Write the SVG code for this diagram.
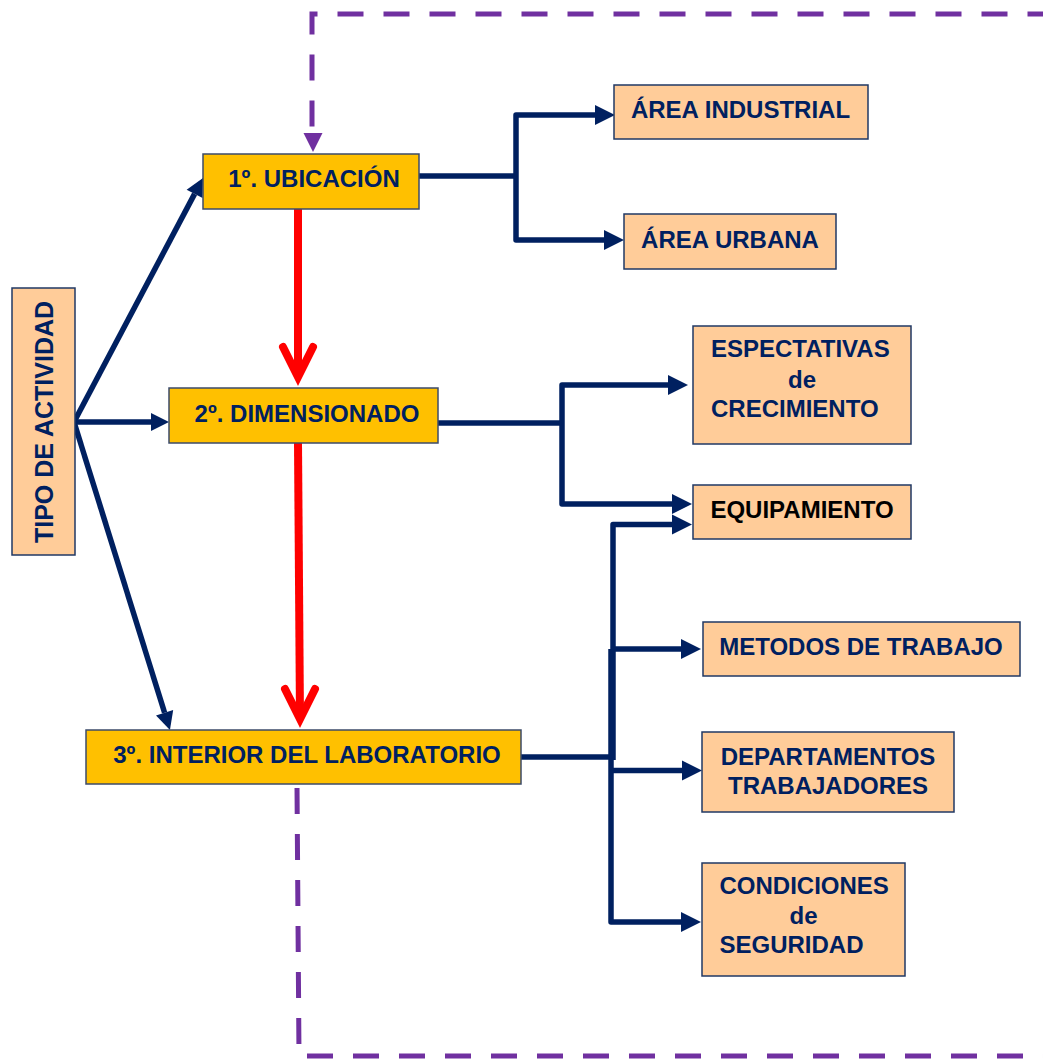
<svg xmlns="http://www.w3.org/2000/svg" width="1043" height="1059" viewBox="0 0 1043 1059">
<style>
.t{font-family:"Liberation Sans",Arial,sans-serif;font-weight:bold;font-size:24px;fill:#002060}
.y{fill:#FFC000;stroke:#3c4b6a;stroke-width:1.5}
.p{fill:#FFCC99;stroke:#203864;stroke-width:1.5}
.nv{fill:none;stroke:#002060;stroke-width:5.5;stroke-linejoin:round}
.rd{fill:none;stroke:#FF0000;stroke-width:8}
.pu{fill:none;stroke:#7030A0;stroke-width:5;stroke-dasharray:26 20}
</style>
<defs>
<marker id="ah" markerUnits="userSpaceOnUse" markerWidth="20" markerHeight="20" refX="0" refY="10" orient="auto" overflow="visible">
<path d="M0,0 L20,10 L0,20 Z" fill="#002060"/>
</marker>
<marker id="ah2" markerUnits="userSpaceOnUse" markerWidth="18" markerHeight="18" refX="0" refY="9" orient="auto" overflow="visible">
<path d="M0,0 L18,9 L0,18 Z" fill="#002060"/>
</marker>
</defs>

<g id="connectors">
<!-- purple dashed loop -->
<path class="pu" d="M312,133 V14 H1043" stroke-dashoffset="39.5"/>
<path d="M303.5,133 L322.5,133 L313,152 Z" fill="#7030A0"/>
<path class="pu" d="M297,786 L299,1056 H1043" stroke-dashoffset="44"/>

<!-- red arrows -->
<path class="rd" d="M298,209 V378"/>
<path class="rd" d="M283,347 L298,377 L313,347" stroke-linecap="round" stroke-linejoin="miter"/>
<path class="rd" d="M298,443 L300,720"/>
<path class="rd" d="M285,689 L300,719 L315,689" stroke-linecap="round" stroke-linejoin="miter"/>

<!-- from TIPO DE ACTIVIDAD -->
<path class="nv" d="M74,422 L194.6,193.9" marker-end="url(#ah2)"/>
<path class="nv" d="M74,422 H151" marker-end="url(#ah2)"/>
<path class="nv" d="M74,422 L164.6,712.8" marker-end="url(#ah2)"/>

<!-- from 1º UBICACIÓN -->
<path class="nv" d="M419,176 H516"/>
<path class="nv" d="M516,176 V115 H595" marker-end="url(#ah)"/>
<path class="nv" d="M516,176 V240 H604" marker-end="url(#ah)"/>

<!-- from 2º DIMENSIONADO -->
<path class="nv" d="M438,423 H562"/>
<path class="nv" d="M562,423 V385 H668" marker-end="url(#ah)"/>
<path class="nv" d="M562,423 V504 H672" marker-end="url(#ah)"/>

<!-- from 3º INTERIOR DEL LABORATORIO -->
<path class="nv" d="M521,757 H613"/>
<path class="nv" d="M613,760 V524.5 H672" marker-end="url(#ah)"/>
<path class="nv" d="M611,649 H681" marker-end="url(#ah)"/>
<path class="nv" d="M611,649 V922 H681" marker-end="url(#ah)"/>
<path class="nv" d="M611,770.5 H682" marker-end="url(#ah)"/>
</g>

<g id="tipo">
<rect class="p" x="12" y="288" width="63" height="267"/>
<text class="t" style="font-size:25px" text-anchor="middle" transform="translate(53,422) rotate(-90)">TIPO DE ACTIVIDAD</text>
</g>

<g id="ubicacion">
<rect class="y" x="203" y="154" width="216" height="55"/>
<text class="t" x="314" y="187" text-anchor="middle">1º. UBICACIÓN</text>
</g>

<g id="dimensionado">
<rect class="y" x="169" y="388" width="269" height="55"/>
<text class="t" x="307" y="422" text-anchor="middle">2º. DIMENSIONADO</text>
</g>

<g id="interior">
<rect class="y" x="86" y="730" width="435" height="54"/>
<text class="t" x="307" y="763" text-anchor="middle">3º. INTERIOR DEL LABORATORIO</text>
</g>

<g id="area-industrial">
<rect class="p" x="614" y="85" width="254" height="54"/>
<text class="t" x="740.5" y="118" text-anchor="middle">ÁREA INDUSTRIAL</text>
</g>

<g id="area-urbana">
<rect class="p" x="624" y="214" width="212" height="55"/>
<text class="t" x="730" y="248" text-anchor="middle">ÁREA URBANA</text>
</g>

<g id="espectativas">
<rect class="p" x="693" y="326" width="218" height="118"/>
<text class="t" x="711" y="357">ESPECTATIVAS</text>
<text class="t" x="802" y="388" text-anchor="middle">de</text>
<text class="t" x="711" y="417">CRECIMIENTO</text>
</g>

<g id="equipamiento">
<rect class="p" x="693" y="485" width="218" height="54"/>
<text class="t" x="802" y="518" text-anchor="middle" style="fill:#000">EQUIPAMIENTO</text>
</g>

<g id="metodos">
<rect class="p" x="703" y="622" width="317" height="54"/>
<text class="t" x="861" y="655" text-anchor="middle">METODOS DE TRABAJO</text>
</g>

<g id="departamentos">
<rect class="p" x="702" y="732" width="252" height="80"/>
<text class="t" x="828" y="765" text-anchor="middle">DEPARTAMENTOS</text>
<text class="t" x="828" y="794" text-anchor="middle">TRABAJADORES</text>
</g>

<g id="condiciones">
<rect class="p" x="702" y="863" width="203" height="113"/>
<text class="t" x="719.5" y="894">CONDICIONES</text>
<text class="t" x="803.5" y="924" text-anchor="middle">de</text>
<text class="t" x="719.5" y="953">SEGURIDAD</text>
</g>
</svg>
